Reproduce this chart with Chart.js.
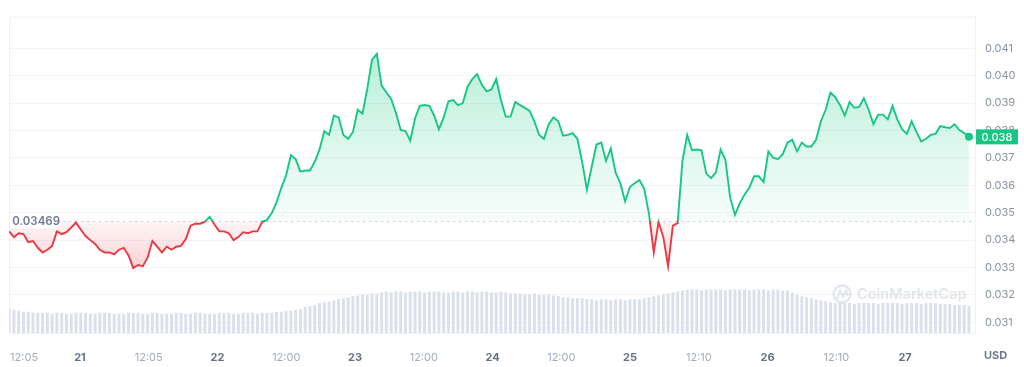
<!DOCTYPE html>
<html lang="en">
<head>
<meta charset="UTF-8" />
<title>Price chart — 7D</title>
<script src="https://cdn.jsdelivr.net/npm/chart.js@4.4.0/dist/chart.umd.min.js"></script>
<style>
  html, body { margin: 0; padding: 0; background: #fff; }
  canvas { display: block; }
</style>
</head>
<body>
<canvas id="price-chart" width="1024" height="367"></canvas>
<script>
// price in USD, one sample every 50 min
const prices = [
  0.03432, 0.03411, 0.03425, 0.03422, 0.03393, 0.03397, 0.03372, 0.03355, 0.03365, 0.03379,
  0.03432, 0.03422, 0.03429, 0.03446, 0.03464, 0.03439, 0.03415, 0.03400, 0.03386, 0.03365,
  0.03355, 0.03355, 0.03348, 0.03365, 0.03372, 0.03344, 0.03298, 0.03309, 0.03305, 0.03337,
  0.03397, 0.03376, 0.03355, 0.03376, 0.03365, 0.03376, 0.03379, 0.03404, 0.03453, 0.03460,
  0.03460, 0.03467, 0.03485, 0.03457, 0.03432, 0.03432, 0.03425, 0.03400, 0.03411, 0.03429,
  0.03425, 0.03432, 0.03432, 0.03467, 0.03474, 0.03499, 0.03538, 0.03591, 0.03636, 0.03710,
  0.03696, 0.03650, 0.03654, 0.03654, 0.03686, 0.03731, 0.03798, 0.03784, 0.03855, 0.03848,
  0.03784, 0.03770, 0.03795, 0.03876, 0.03862, 0.03953, 0.04059, 0.04080, 0.03964, 0.03939,
  0.03915, 0.03865, 0.03802, 0.03798, 0.03763, 0.03844, 0.03890, 0.03893, 0.03890, 0.03855,
  0.03805, 0.03848, 0.03907, 0.03911, 0.03893, 0.03900, 0.03960, 0.03988, 0.04006, 0.03967,
  0.03943, 0.03950, 0.03988, 0.03911, 0.03851, 0.03851, 0.03904, 0.03893, 0.03883, 0.03872,
  0.03834, 0.03784, 0.03770, 0.03823, 0.03848, 0.03834, 0.03781, 0.03784, 0.03791, 0.03770,
  0.03686, 0.03584, 0.03668, 0.03749, 0.03756, 0.03689, 0.03735, 0.03647, 0.03608, 0.03541,
  0.03594, 0.03608, 0.03619, 0.03587, 0.03496, 0.03355, 0.03466, 0.03411, 0.03305, 0.03453,
  0.03462, 0.03689, 0.03784, 0.03728, 0.03731, 0.03728, 0.03643, 0.03626, 0.03647, 0.03731,
  0.03693, 0.03555, 0.03492, 0.03534, 0.03566, 0.03591, 0.03633, 0.03633, 0.03612, 0.03724,
  0.03700, 0.03696, 0.03714, 0.03756, 0.03767, 0.03724, 0.03756, 0.03742, 0.03742, 0.03767,
  0.03834, 0.03876, 0.03939, 0.03922, 0.03893, 0.03855, 0.03904, 0.03883, 0.03886, 0.03918,
  0.03876, 0.03823, 0.03858, 0.03858, 0.03841, 0.03890, 0.03841, 0.03805, 0.03788, 0.03834,
  0.03795, 0.03760, 0.03770, 0.03784, 0.03788, 0.03816, 0.03812, 0.03809, 0.03823, 0.03802,
  0.03791, 0.03777,
];

// volume, millions USD, same samples
const volumes = [
  2.5, 2.4, 2.3, 2.2, 2.2, 2.1,
  2.1, 2.1, 2.1, 2.0, 2.1, 2.1, 2.0, 2.0, 2.1, 2.1,
  2.1, 2.0, 2.0, 2.1, 2.1, 2.1, 2.0, 2.0, 2.0, 2.1,
  2.1, 2.1, 2.0, 2.0, 2.1, 2.1, 2.0, 2.0, 2.0, 2.1,
  2.1, 2.0, 2.0, 2.1, 2.1, 2.0, 2.0, 2.0, 2.1, 2.1,
  2.1, 2.0, 2.0, 2.1, 2.1, 2.1, 2.0, 2.1, 2.1,
  2.1, 2.2, 2.2, 2.3, 2.3, 2.4, 2.5, 2.7, 2.8, 2.9, 3.1, 3.2,
  3.3, 3.4, 3.5, 3.6, 3.7, 3.8, 3.9, 4.0, 4.0, 4.1, 4.1, 4.2,
  4.3, 4.2, 4.3, 4.3, 4.2, 4.3, 4.3, 4.3, 4.2, 4.3,
  4.3, 4.3, 4.2, 4.2, 4.3, 4.3, 4.2, 4.3, 4.3, 4.2,
  4.3, 4.3, 4.2, 4.2, 4.3, 4.2,
  4.1, 4.1, 4.1, 4.0, 4.0, 4.1, 4.0, 4.0, 4.0, 3.9,
  3.8, 3.7, 3.7, 3.6, 3.6, 3.6,
  3.5, 3.5, 3.4, 3.5, 3.5, 3.4, 3.5, 3.5, 3.4, 3.5, 3.5, 3.5, 3.6,
  3.7, 3.8, 3.9, 4.0, 4.1, 4.2, 4.3, 4.4,
  4.5, 4.5, 4.5, 4.4, 4.5, 4.5, 4.5, 4.5, 4.4, 4.5, 4.5,
  4.5, 4.5, 4.4, 4.5, 4.5, 4.5, 4.4, 4.5, 4.5, 4.4,
  4.4, 4.2, 4.0, 3.8, 3.7, 3.6, 3.5, 3.4, 3.3, 3.2,
  3.1, 3.1, 3.1, 3.1, 3.0, 3.1, 3.1, 3.1, 3.1, 3.0, 3.1, 3.1,
  3.1, 3.1, 3.0, 3.1, 3.1, 3.1, 3.0, 3.1, 3.1, 3.1, 3.0,
  3.0, 3.0, 2.9, 2.9, 2.9, 2.8,
];

const startHour = -12.36;   // hours from day 21 00:00
const stepMinutes = 50;
const openPrice = 0.03469;
const lastPriceLabel = "0.038";
const currency = "USD";

const yTicks = [0.031, 0.032, 0.033, 0.034, 0.035, 0.036, 0.037, 0.038, 0.039, 0.040, 0.041];
const xTickHours = [-9.75, 0, 12, 24, 36, 48, 60, 72, 84, 96, 108, 120, 132, 144];
const xTickLabels = ["12:05", "21", "12:05", "22", "12:00", "23", "12:00", "24", "12:00", "25", "12:10", "26", "12:10", "27"];

const GREEN = "#16c784";
const RED = "#ea3943";
const isDay = (i) => xTickLabels[i] && xTickLabels[i].length <= 2;

const hours = prices.map((_, i) => startHour + (i * stepMinutes) / 60);
const last = prices.length - 1;

Chart.defaults.font.family = "Inter, 'Noto Sans', sans-serif";

const overlay = {
  id: "overlay",
  beforeDatasetsDraw(chart) {
    const { ctx, chartArea: a, scales: { y } } = chart;
    const by = Math.round(y.getPixelForValue(openPrice)) + 0.5;
    ctx.save();
    ctx.strokeStyle = "#eef1f5";
    ctx.lineWidth = 1;
    ctx.strokeRect(a.left + 0.5, a.top + 0.5, a.right - a.left, a.bottom - a.top);
    ctx.setLineDash([2, 4]);
    ctx.strokeStyle = "#c3cad8";
    ctx.beginPath();
    ctx.moveTo(a.left + 48, by);
    ctx.lineTo(a.right, by);
    ctx.stroke();
    ctx.restore();
  },
  afterDatasetsDraw(chart) {
    const { ctx } = chart;
    // watermark
    ctx.save();
    ctx.globalAlpha = 0.32;
    ctx.strokeStyle = "#a8b2c4";
    ctx.fillStyle = "#a8b2c4";
    ctx.lineWidth = 2.4;
    ctx.beginPath();
    ctx.arc(842, 294, 8.5, 0, Math.PI * 2);
    ctx.stroke();
    ctx.lineWidth = 2;
    ctx.beginPath();
    ctx.moveTo(837, 299);
    ctx.lineTo(840, 290);
    ctx.lineTo(843, 297);
    ctx.lineTo(846, 290);
    ctx.lineTo(848, 296);
    ctx.stroke();
    ctx.font = "600 14.5px Inter, sans-serif";
    ctx.textBaseline = "middle";
    ctx.fillText("CoinMarketCap", 857, 295);
    ctx.restore();
  },
  afterDraw(chart) {
    const { ctx, chartArea: a, scales: { y } } = chart;
    const by = y.getPixelForValue(openPrice);
    ctx.save();
    // open price label
    ctx.fillStyle = "#fff";
    ctx.fillRect(a.left + 1, by - 7, 47, 14);
    ctx.font = "600 11.5px Inter, sans-serif";
    ctx.fillStyle = "#6f7a8f";
    ctx.textBaseline = "middle";
    ctx.textAlign = "left";
    ctx.fillText(openPrice.toFixed(5), a.left + 3, by + 0.5);
    // last price badge
    const ly = y.getPixelForValue(prices[last]);
    ctx.fillStyle = GREEN;
    ctx.fillRect(a.right + 1, ly - 7.5, 42, 15);
    ctx.fillStyle = "#fff";
    ctx.font = "500 11px Inter, sans-serif";
    ctx.textAlign = "center";
    ctx.fillText(lastPriceLabel, a.right + 22, ly + 0.5);
    // currency
    ctx.fillStyle = "#6f7a8f";
    ctx.font = "700 11px Inter, sans-serif";
    ctx.textAlign = "left";
    ctx.fillText(currency, a.right + 9, 356);
    ctx.restore();
  },
};

const chart = new Chart(document.getElementById("price-chart"), {
  type: "line",
  data: {
    datasets: [
      {
        type: "line",
        data: hours.map((h, i) => ({ x: h, y: prices[i] })),
        yAxisID: "y",
        borderColor: GREEN,
        borderWidth: 1.9,
        tension: 0,
        pointRadius: (c) => (c.dataIndex === last ? 4 : 0),
        pointBackgroundColor: GREEN,
        pointBorderColor: GREEN,
        pointBorderWidth: 0,
        order: 0,
      },
      {
        type: "bar",
        data: hours.map((h, i) => ({ x: h, y: volumes[i] })),
        yAxisID: "yv",
        backgroundColor: "#dce0ea",
        categoryPercentage: 1,
        barPercentage: 0.62,
        order: 1,
      },
    ],
  },
  options: {
    responsive: false,
    animation: false,
    layout: { padding: { left: 7, top: 5, right: 0, bottom: 0 } },
    plugins: { legend: { display: false }, tooltip: { enabled: false } },
    scales: {
      x: {
        type: "linear",
        min: startHour,
        max: 156.2,
        offset: false,
        grid: { display: false },
        border: { display: false },
        afterBuildTicks: (s) => { s.ticks = xTickHours.map((v) => ({ value: v })); },
        afterFit: (s) => { s.height = 34; },
        ticks: {
          autoSkip: false,
          maxRotation: 0,
          padding: 10,
          callback: (v, i) => xTickLabels[i],
          color: (c) => (isDay(c.index) ? "#667186" : "#a3abbb"),
          font: (c) => ({ size: 11, weight: isDay(c.index) ? "700" : "400" }),
        },
      },
      y: {
        position: "right",
        min: 0.03061,
        max: 0.04216,
        afterBuildTicks: (s) => { s.ticks = yTicks.map((v) => ({ value: v })); },
        afterFit: (s) => { s.width = 49; },
        grid: { color: "#f2f4f7", drawTicks: false },
        border: { display: false },
        ticks: {
          padding: 10,
          color: "#8a93a5",
          font: { size: 11 },
          callback: (v) => Number(v).toFixed(3),
        },
      },
      yv: { display: false, min: 0, max: 32.8 },
    },
  },
  plugins: [overlay],
});

// colours depend on where the open price sits on the canvas
function paint(c) {
  const { ctx, chartArea: a, scales: { y } } = c;
  const base = y.getPixelForValue(openPrice);
  const t = (base - a.top) / (a.bottom - a.top);
  const stroke = ctx.createLinearGradient(0, a.top, 0, a.bottom);
  stroke.addColorStop(0, GREEN);
  stroke.addColorStop(t, GREEN);
  stroke.addColorStop(t, RED);
  stroke.addColorStop(1, RED);
  const up = ctx.createLinearGradient(0, y.getPixelForValue(0.041), 0, base);
  up.addColorStop(0, "rgba(22,199,132,0.30)");
  up.addColorStop(1, "rgba(22,199,132,0.03)");
  const down = ctx.createLinearGradient(0, base, 0, y.getPixelForValue(0.033));
  down.addColorStop(0, "rgba(234,57,67,0.05)");
  down.addColorStop(1, "rgba(234,57,67,0.22)");
  const ds = c.data.datasets[0];
  ds.borderColor = stroke;
  ds.fill = { target: { value: openPrice }, above: up, below: down };
  c.update("none");
}
paint(chart);
</script>
</body>
</html>
